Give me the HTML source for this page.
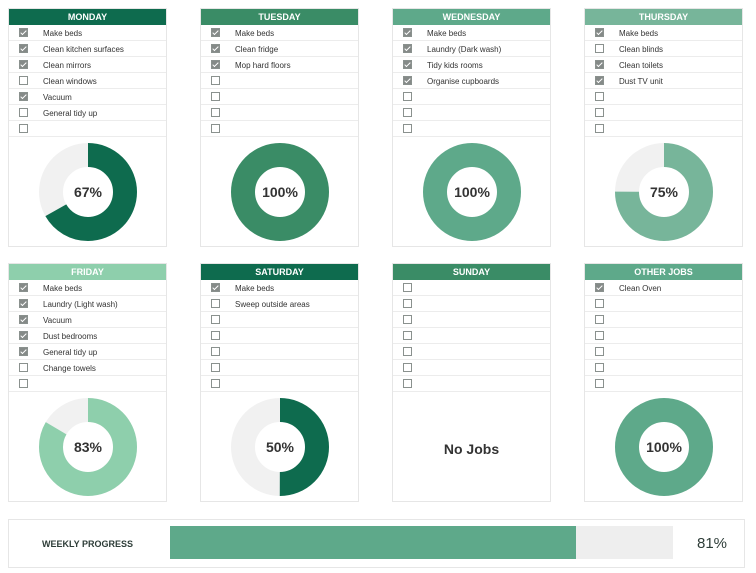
<!DOCTYPE html>
<html><head><meta charset="utf-8">
<style>
body{margin:0;width:756px;height:573px;background:#fff;font-family:"Liberation Sans",sans-serif;position:relative;overflow:hidden}
.card{position:absolute;width:159px;height:239px;border:1px solid #e6e6e6;box-sizing:border-box;background:#fff}
.hdr{height:16px;line-height:16px;text-align:center;color:#fff;font-weight:bold;font-size:9px}
.row{height:16px;border-bottom:1px solid #ececec;box-sizing:border-box;position:relative;font-size:8px;color:#333}
.cb{position:absolute;left:10px;top:3px;width:9px;height:9px;border:1px solid #8a918e;box-sizing:border-box;background:#fff}
.cb.on{background:#858a88}
.cb.on:after{content:"";position:absolute;left:2px;top:0px;width:2px;height:5px;border:solid #fff;border-width:0 1.3px 1.3px 0;transform:rotate(45deg)}
.txt{position:absolute;left:34px;top:4px}
.donut{position:absolute;left:0;top:127px}
.nojobs{position:absolute;left:0;width:100%;top:177px;text-align:center;font-weight:bold;font-size:14px;color:#333}
#wk{position:absolute;left:8px;top:519px;width:737px;height:49px;border:1px solid #e6e6e6;box-sizing:border-box}
</style></head><body>
<div id="wk">
<div style="position:absolute;left:33px;top:19px;font-size:9px;font-weight:bold;color:#2e3d38">WEEKLY PROGRESS</div>
<div style="position:absolute;left:161px;top:6px;width:503px;height:33px;background:#eeeeee"><div id="wkfill" style="height:100%;background:#5ea98a"></div></div>
<div id="wkpct" style="position:absolute;left:688px;top:15px;font-size:15px;color:#2e3d38"></div>
</div>
<script>
const days=["MONDAY","TUESDAY","WEDNESDAY","THURSDAY","FRIDAY","SATURDAY","SUNDAY","OTHER JOBS"];
const colors=["#0e6b4e","#3a8c66","#5ea98a","#77b59a","#8ecfac","#0e6b4e","#3a8c66","#5ea98a"];
const tasks=[
["Make beds","Clean kitchen surfaces","Clean mirrors","Clean windows","Vacuum","General tidy up"],
["Make beds","Clean fridge","Mop hard floors"],
["Make beds","Laundry (Dark wash)","Tidy kids rooms","Organise cupboards"],
["Make beds","Clean blinds","Clean toilets","Dust TV unit"],
["Make beds","Laundry (Light wash)","Vacuum","Dust bedrooms","General tidy up","Change towels"],
["Make beds","Sweep outside areas"],
[],
["Clean Oven"]];
const done=[
[1,1,1,0,1,0],[1,1,1],[1,1,1,1],[1,0,1,1],[1,1,1,1,1,0],[1,0],[],[1]];
const lefts=[8,200,392,584],tops=[8,263];
let tot=0,tdone=0;
days.forEach((d,i)=>{
 const c=document.createElement('div');c.className='card';
 
 
 c.style.left=lefts[i%4]+'px';c.style.top=tops[Math.floor(i/4)]+'px';
 const h=document.createElement('div');h.className='hdr';h.style.background=colors[i];h.textContent=d;
 
 
 c.appendChild(h);
 for(let r=0;r<7;r++){
  const row=document.createElement('div');row.className='row';
  
  
  const cb=document.createElement('div');cb.className='cb'+(done[i][r]?' on':'');
  
  
  row.appendChild(cb);
  if(tasks[i][r]){const t=document.createElement('div');t.className='txt';t.textContent=tasks[i][r];
   
   
   row.appendChild(t);}
  c.appendChild(row);
 }
 const n=tasks[i].length,k=done[i].reduce((a,b)=>a+b,0);tot+=n;tdone+=k;
 if(n===0){const nj=document.createElement('div');nj.className='nojobs';nj.textContent='No Jobs';
  
  
  c.appendChild(nj);}
 else{
  const p=k/n,cx=79,cy=56,R=49,r0=25;
  const rad=(R+r0)/2,w=R-r0,circ=2*Math.PI*rad;
  const ns='http://www.w3.org/2000/svg';
  const svg=document.createElementNS(ns,'svg');svg.setAttribute('class','donut');svg.setAttribute('width','159');svg.setAttribute('height','112');
  
  
  const bg=document.createElementNS(ns,'circle');
  bg.setAttribute('cx',cx);bg.setAttribute('cy',cy);bg.setAttribute('r',rad);bg.setAttribute('fill','none');bg.setAttribute('stroke','#f1f1f1');bg.setAttribute('stroke-width',w);
  
  
  svg.appendChild(bg);
  const fg=document.createElementNS(ns,'circle');
  fg.setAttribute('cx',cx);fg.setAttribute('cy',cy);fg.setAttribute('r',rad);fg.setAttribute('fill','none');fg.setAttribute('stroke',colors[i]);fg.setAttribute('stroke-width',w);
  fg.setAttribute('stroke-dasharray',(p*circ)+' '+circ);fg.setAttribute('transform','rotate(-90 '+cx+' '+cy+')');
  
  
  svg.appendChild(fg);
  const tx=document.createElementNS(ns,'text');tx.setAttribute('x',cx);tx.setAttribute('y',cy+5);tx.setAttribute('text-anchor','middle');
  tx.setAttribute('font-size','14');tx.setAttribute('font-weight','bold');tx.setAttribute('fill','#333');tx.setAttribute('font-family','Liberation Sans, sans-serif');
  tx.textContent=Math.round(p*100)+'%';
  
  
  svg.appendChild(tx);
  c.appendChild(svg);
 }
 document.body.appendChild(c);
});
const wp=tdone/tot;
document.getElementById('wkfill').style.width=(wp*100)+'%';
document.getElementById('wkpct').textContent=Math.round(wp*100)+'%';
</script>
</body></html>
